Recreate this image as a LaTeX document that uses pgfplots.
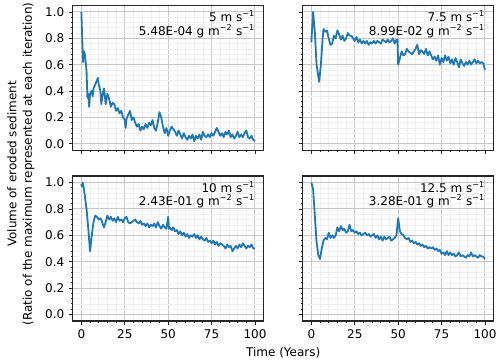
\documentclass[border=0pt]{standalone}
\usepackage{fontspec}
\setmainfont{DejaVu Sans}
\usepackage{pgfplots}
\usepackage{pgfplotstable}
\pgfplotsset{compat=1.18}
\definecolor{tabblue}{RGB}{31,119,180}

% 5 m/s
\pgfplotstableread{
x y
0 1.00
0.5 0.80
1 0.62
1.5 0.70
2 0.68
2.5 0.62
3 0.55
3.5 0.35
4 0.38
4.5 0.28
5 0.38
6 0.40
6.5 0.36
7 0.42
8 0.45
9 0.48
9.5 0.50
10 0.45
11 0.40
11.5 0.30
12 0.35
13 0.42
13.5 0.37
14 0.30
15 0.38
16 0.34
17 0.28
18 0.31
19 0.30
20 0.25
21 0.27
22 0.23
23 0.25
24 0.20
25 0.18
25.5 0.12
26 0.19
27 0.22
28 0.25
29 0.18
30 0.20
31 0.16
32 0.13
33 0.15
34 0.10
35 0.13
36 0.11
37 0.15
38 0.12
39 0.16
40 0.14
41 0.18
42 0.12
43 0.10
44 0.16
45 0.24
46 0.20
47 0.13
48 0.08
49 0.12
50 0.06
51 0.10
52 0.13
53 0.11
54 0.09
55 0.06
56 0.10
57 0.07
58 0.04
59 0.08
60 0.05
61 0.03
62 0.06
63 0.04
64 0.07
65 0.02
66 0.06
67 0.04
68 0.07
69 0.03
70 0.09
71 0.06
72 0.05
73 0.07
74 0.05
75 0.08
76 0.06
77 0.09
78 0.12
79 0.09
80 0.06
81 0.08
82 0.05
83 0.09
84 0.07
85 0.10
86 0.05
87 0.07
88 0.04
89 0.06
90 0.09
91 0.05
92 0.07
93 0.05
94 0.08
95 0.10
96 0.05
97 0.04
98 0.06
99 0.03
100 0.02
}\tA

% 7.5 m/s
\pgfplotstableread{
x y
0 0.77
1 1.00
2 0.85
3 0.60
4.5 0.47
5.5 0.60
6.5 0.80
7 0.87
8 0.85
9 0.86
10 0.80
11 0.75
12 0.76
13 0.82
14 0.80
15 0.86
16 0.83
17 0.79
18 0.82
19 0.78
20 0.80
21 0.84
22 0.82
23 0.82
24 0.80
25 0.78
26 0.81
27 0.77
28 0.79
29 0.76
30 0.78
31 0.76
32 0.78
33 0.75
34 0.77
35 0.76
36 0.78
37 0.76
38 0.78
39 0.77
40 0.76
41 0.79
42 0.78
43 0.77
44 0.79
45 0.77
46 0.78
47 0.80
48 0.76
49 0.79
49.6 0.79
50 0.60
51 0.65
52 0.70
53 0.67
54 0.68
55 0.72
56 0.70
57 0.69
58 0.68
59 0.70
60 0.72
61 0.75
62 0.68
63 0.71
64 0.70
65 0.68
66 0.72
67 0.67
68 0.70
69 0.67
70 0.64
71 0.66
72 0.63
73 0.67
74 0.60
75 0.65
76 0.62
77 0.67
78 0.63
79 0.66
80 0.61
81 0.64
82 0.60
83 0.65
84 0.62
85 0.58
86 0.64
87 0.61
88 0.59
89 0.62
90 0.60
91 0.63
92 0.60
93 0.62
94 0.64
95 0.61
96 0.63
97 0.61
98 0.62
99 0.61
100 0.56
}\tB

% 10 m/s
\pgfplotstableread{
x y
0 0.99
0.3 0.97
0.8 1.00
1.5 0.95
3 0.80
4 0.65
5 0.48
6 0.60
7 0.70
8 0.75
9 0.74
10 0.72
11 0.73
12 0.70
13 0.66
14 0.70
15 0.75
16 0.72
17 0.74
18 0.71
19 0.73
20 0.70
21 0.74
22 0.71
23 0.72
24 0.70
25 0.73
26 0.74
27 0.70
28 0.69
29 0.70
30 0.71
31 0.72
32 0.70
33 0.69
34 0.71
35 0.68
36 0.69
37 0.67
38 0.69
39 0.66
40 0.68
41 0.67
42 0.69
43 0.66
44 0.70
45 0.67
46 0.65
47 0.68
48 0.66
49 0.65
50 0.74
50.5 0.65
51 0.66
52 0.64
53 0.66
54 0.63
55 0.64
56 0.61
57 0.63
58 0.60
59 0.62
60 0.59
61 0.61
62 0.58
63 0.60
64 0.59
65 0.61
66 0.58
67 0.60
68 0.57
69 0.59
70 0.57
71 0.56
72 0.58
73 0.55
74 0.56
75 0.54
76 0.56
77 0.53
78 0.55
79 0.52
80 0.54
81 0.53
82 0.52
83 0.50
84 0.53
85 0.51
86 0.52
87 0.48
88 0.50
89 0.52
90 0.50
91 0.53
92 0.51
93 0.54
94 0.52
95 0.50
96 0.52
97 0.51
98 0.53
99 0.50
100 0.50
}\tC

% 12.5 m/s
\pgfplotstableread{
x y
0 1.00
1 0.95
2 0.75
3 0.55
4 0.45
5 0.42
6 0.50
7 0.56
8 0.58
9 0.57
10 0.62
11 0.58
12 0.60
13 0.58
14 0.60
15 0.66
16 0.63
17 0.67
18 0.64
19 0.65
20 0.62
21 0.63
22 0.68
23 0.63
24 0.64
25 0.62
26 0.63
27 0.61
28 0.62
29 0.60
30 0.61
31 0.62
32 0.60
33 0.61
34 0.59
35 0.60
36 0.61
37 0.58
38 0.60
39 0.57
40 0.59
41 0.56
42 0.59
43 0.57
44 0.58
45 0.59
46 0.56
47 0.57
48 0.58
49 0.60
50 0.73
51 0.63
52 0.61
53 0.60
54 0.58
55 0.57
56 0.58
57 0.55
58 0.56
59 0.54
60 0.55
61 0.53
62 0.54
63 0.52
64 0.53
65 0.51
66 0.52
67 0.50
68 0.51
69 0.50
70 0.51
71 0.49
72 0.50
73 0.48
74 0.49
75 0.46
76 0.47
77 0.45
78 0.48
79 0.45
80 0.47
81 0.45
82 0.46
83 0.44
84 0.45
85 0.47
86 0.44
87 0.45
88 0.44
89 0.43
90 0.45
91 0.44
92 0.47
93 0.44
94 0.45
95 0.44
96 0.43
97 0.45
98 0.44
99 0.44
100 0.42
}\tD

\pgfplotsset{
  panel/.style={
    anchor=north west, scale only axis,
    width=143.25pt, height=108.75pt,
    xmin=-5, xmax=105, ymin=-0.05, ymax=1.05,
    xtick={0,25,50,75,100}, ytick={0,0.2,...,1.0},
    minor x tick num=4, minor y tick num=4,
    grid=both,
    major grid style={color=black!22, line width=0.75pt},
    minor grid style={color=black!6, line width=0.4pt},
    axis line style={color=black!85, line width=1pt},
    tick align=outside, tick pos=left,
    major tick length=2.8pt, minor tick length=1.6pt,
    tick style={color=black!85, line width=0.6pt},
    tick label style={font=\fontsize{9}{11}\selectfont},
    /pgf/number format/assume math mode=true,
    yticklabel style={/pgf/number format/fixed, /pgf/number format/fixed zerofill, /pgf/number format/precision=1},
    clip=false,
  },
  noxl/.style={xticklabels={}},
  noyl/.style={yticklabels={}},
}
\tikzset{
  ann/.style={anchor=north east, align=right, inner sep=0pt, font=\fontsize{9}{10.2}\selectfont},
  ln/.style={tabblue, line width=1.35pt, line join=round},
}

\begin{document}
\begin{tikzpicture}
\path[use as bounding box] (0,0) rectangle (375pt,-271.5pt);

\begin{axis}[panel, noxl, at={(54.5pt,-4pt)}]
\addplot[ln] table[x=x,y=y] {\tA};
\node[ann] at (rel axis cs:0.955,0.965) {5 m s\textsuperscript{−1}\\5.48E-04 g m\textsuperscript{−2} s\textsuperscript{−1}};
\end{axis}

\begin{axis}[panel, noxl, noyl, at={(227pt,-4pt)}]
\addplot[ln] table[x=x,y=y] {\tB};
\node[ann] at (rel axis cs:0.955,0.965) {7.5 m s\textsuperscript{−1}\\8.99E-02 g m\textsuperscript{−2} s\textsuperscript{−1}};
\end{axis}

\begin{axis}[panel, at={(54.5pt,-132pt)}]
\addplot[ln] table[x=x,y=y] {\tC};
\node[ann] at (rel axis cs:0.955,0.965) {10 m s\textsuperscript{−1}\\2.43E-01 g m\textsuperscript{−2} s\textsuperscript{−1}};
\end{axis}

\begin{axis}[panel, noyl, at={(227pt,-132pt)}]
\addplot[ln] table[x=x,y=y] {\tD};
\node[ann] at (rel axis cs:0.955,0.965) {12.5 m s\textsuperscript{−1}\\3.28E-01 g m\textsuperscript{−2} s\textsuperscript{−1}};
\end{axis}

\node[rotate=90, align=center, font=\fontsize{9}{11.5}\selectfont] at (15.6pt,-123pt)
  {Volume of eroded sediment\\(Ratio of the maximum represented at each iteration)};
\node[font=\fontsize{9}{11}\selectfont] at (212.4pt,-264.5pt) {Time (Years)};
\end{tikzpicture}
\end{document}
